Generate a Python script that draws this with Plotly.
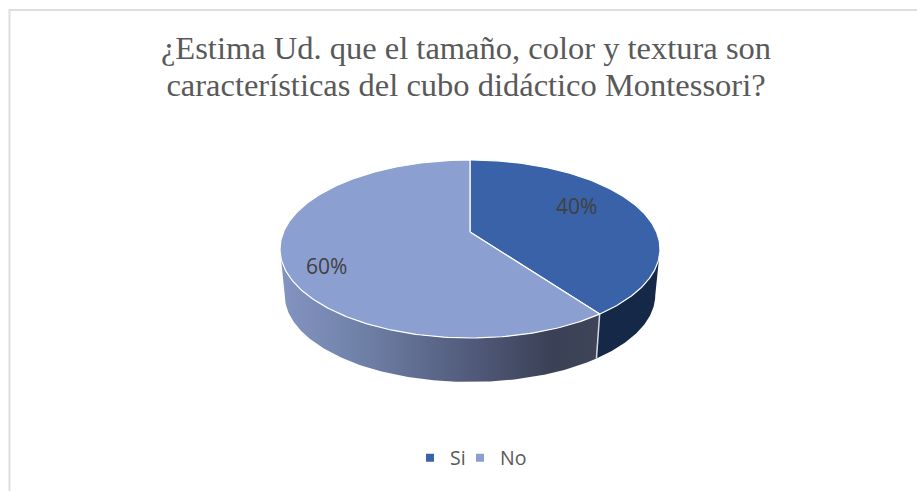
import numpy as np
import plotly.graph_objects as go

# ---- data ----
CATEGORIES = ["Si", "No"]
VALUES = [40, 60]
TITLE_LINES = ["¿Estima Ud. que el tamaño, color y textura son",
               "características del cubo didáctico Montessori?"]

# ---- styling / projection of the tilted pie ----
COLORS = ["#3A62A8", "#8C9FD1"]
SIDE_DARK = "#162847"
W, H = 917, 491
CX, CY = 470, 232      # apex of the pie
A, B = 186.5, 85.75    # projected radii
K = 0.191              # perspective
DEPTH, SHRINK = 46.6, 0.975


def project(t, r=1.0, base=False):
    """t = clockwise angle from 12 o'clock in radians."""
    u, v = r * np.sin(t), -r * np.cos(t)
    w = 1 - K * v
    s = SHRINK if base else 1.0
    return CX + s * A * u / w, CY + (DEPTH if base else 0) + s * B * v / w


shares = np.array(VALUES, dtype=float) / sum(VALUES)
edges = np.concatenate([[0], np.cumsum(shares)]) * 2 * np.pi
t_right = np.arccos(-K)                # silhouette extremes
t_left = 2 * np.pi - t_right

fig = go.Figure()


def wall(t0, t1, **style):
    ts = np.linspace(t0, t1, 120)
    xa, ya = project(ts)
    xb, yb = project(ts[::-1], base=True)
    fig.add_trace(go.Scatter(x=np.r_[xa, xb], y=np.r_[ya, yb], mode="lines", fill="toself",
                             line=dict(width=0), showlegend=False, hoverinfo="skip", **style))


# side walls
wall(t_right, edges[1], fillcolor=SIDE_DARK)
wall(edges[1], t_left, fillgradient=dict(
    type="horizontal",
    colorscale=[[0, "#8494C2"], [0.25, "#7081A8"], [0.6, "#515A7A"], [0.85, "#3A4156"], [1, "#3E4559"]]))

# separator on the wall
xs0, ys0 = project(edges[1])
xs1, ys1 = project(edges[1], base=True)
fig.add_trace(go.Scatter(x=[xs0, xs1], y=[ys0, ys1], mode="lines", showlegend=False, hoverinfo="skip",
                         line=dict(color="#D5D8DE", width=1.5)))

# top face
for i, name in enumerate(CATEGORIES):
    ts = np.linspace(edges[i], edges[i + 1], 240)
    xa, ya = project(ts)
    fig.add_trace(go.Scatter(x=np.r_[CX, xa, CX], y=np.r_[CY, ya, CY], mode="lines", fill="toself",
                             fillcolor=COLORS[i], line=dict(color="white", width=1.2),
                             showlegend=False, name=name, hoverinfo="name"))

# legend entries (one small legend per entry so their spacing can follow the reference)
for i, name in enumerate(CATEGORIES):
    fig.add_trace(go.Scatter(x=[None], y=[None], mode="markers", name=name,
                             legend="legend" if i == 0 else "legend2",
                             marker=dict(symbol="square", size=8, color=COLORS[i])))

# data labels
LABEL_POS = [(576, 206), (326, 266)]
for v, (lx, ly) in zip(VALUES, LABEL_POS):
    fig.add_annotation(x=lx, y=ly, text=f"{v}%", showarrow=False,
                       font=dict(family="Open Sans", size=21, color="#404040"))

title_text = "<br>".join(f'<span style="font-size:32.5px">{s}</span>' for s in TITLE_LINES)

legend_style = dict(orientation="h", xanchor="left", y=1 - 458 / H, yanchor="middle",
                    font=dict(family="Open Sans", size=19.5, color="#595959"),
                    bgcolor="rgba(0,0,0,0)")

fig.update_layout(
    width=W, height=H, autosize=False,
    margin=dict(l=0, r=0, t=0, b=0),
    paper_bgcolor="white", plot_bgcolor="white",
    title=dict(text=title_text, x=466 / W, xanchor="center", y=1 - 59 / H, yanchor="top",
               font=dict(family="Liberation Serif", size=28.5, color="#595959")),
    xaxis=dict(range=[0, W], visible=False, fixedrange=True),
    yaxis=dict(range=[H, 0], visible=False, fixedrange=True),
    legend=dict(x=(430 - 20) / W, **legend_style),
    legend2=dict(x=(480 - 20) / W, **legend_style),
    shapes=[dict(type="rect", xref="x", yref="y", x0=9.5, y0=10, x1=W + 20, y1=H + 20,
                 line=dict(color="#DEDEDE", width=2), layer="below")],
)

fig.write_html("out.html", config=dict(displayModeBar=False),
               post_script="document.body.style.margin='0';")
